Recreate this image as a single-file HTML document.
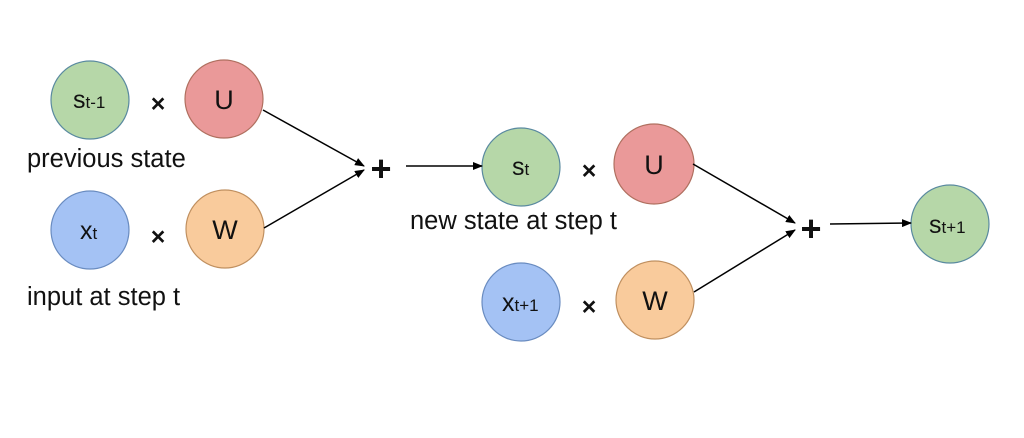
<!DOCTYPE html>
<html><head><meta charset="utf-8"><style>
html,body{margin:0;padding:0;background:#fff;width:1024px;height:438px;overflow:hidden}
svg text{font-family:"Liberation Sans",Arial,sans-serif;fill:#111}
</style></head><body>
<svg width="1024" height="438" viewBox="0 0 1024 438" xmlns="http://www.w3.org/2000/svg">
<defs><marker id="a" markerWidth="10" markerHeight="8" refX="9" refY="4" orient="auto" markerUnits="userSpaceOnUse"><path d="M0,0 L10,4 L0,8 Z" fill="#000"/></marker></defs>
<g stroke-width="1.2">
<circle cx="90" cy="100" r="39" fill="#b6d7a8" stroke="#5a8aa0"/>
<circle cx="224" cy="99" r="39" fill="#ea9999" stroke="#b07060"/>
<circle cx="90" cy="230" r="39" fill="#a4c2f4" stroke="#6a8cc0"/>
<circle cx="225" cy="229" r="39" fill="#f9cb9c" stroke="#c09060"/>
<circle cx="521" cy="167" r="39" fill="#b6d7a8" stroke="#5a8aa0"/>
<circle cx="654" cy="164" r="40" fill="#ea9999" stroke="#b07060"/>
<circle cx="521" cy="302" r="39" fill="#a4c2f4" stroke="#6a8cc0"/>
<circle cx="655" cy="300" r="39" fill="#f9cb9c" stroke="#c09060"/>
<circle cx="950" cy="224" r="39" fill="#b6d7a8" stroke="#5a8aa0"/>
</g>
<g stroke="#000" stroke-width="1.5" marker-end="url(#a)">
<line x1="263" y1="110" x2="364" y2="166"/>
<line x1="264" y1="228" x2="364" y2="170"/>
<line x1="406" y1="166" x2="482" y2="166"/>
<line x1="693" y1="164" x2="795" y2="223"/>
<line x1="694" y1="292" x2="795" y2="230"/>
<line x1="830" y1="224" x2="911" y2="223"/>
</g>
<g font-size="27" text-anchor="middle">
<text x="224" y="109">U</text><text x="225" y="239">W</text>
<text x="654" y="174">U</text><text x="655" y="310">W</text>
</g>
<g font-size="25" font-weight="bold" text-anchor="middle">
<text x="158" y="112">×</text><text x="158" y="245">×</text>
<text x="589" y="179">×</text><text x="589" y="315">×</text>
</g>
<g font-size="36" font-weight="bold" text-anchor="middle">
<text x="381" y="181">+</text><text x="811" y="241">+</text>
</g>
<text x="73" y="108" font-size="25">s<tspan font-size="17">t-1</tspan></text>
<text x="80" y="239" font-size="25">x<tspan font-size="17">t</tspan></text>
<text x="512" y="175" font-size="25">s<tspan font-size="17">t</tspan></text>
<text x="502" y="311" font-size="25">x<tspan font-size="17">t+1</tspan></text>
<text x="929" y="233" font-size="25">s<tspan font-size="17">t+1</tspan></text>
<g font-size="25.5">
<text x="27" y="167">previous state</text>
<text x="27" y="305">input at step t</text>
<text x="410" y="229">new state at step t</text>
</g>
</svg>
</body></html>
